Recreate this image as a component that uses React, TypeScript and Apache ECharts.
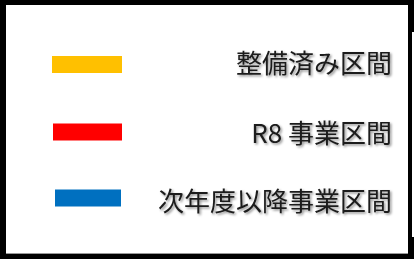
import React, { useEffect, useRef } from "react";
import * as echarts from "echarts";

const labels = ["整備済み区間", "R8 事業区間", "次年度以降事業区間"];
const colors = ["#FFC000", "#FF0000", "#0070C0"];

export default function App() {
  const ref = useRef<HTMLDivElement>(null);
  useEffect(() => {
    document.body.style.margin = "0";
    const chart = echarts.init(ref.current!, null, { renderer: "svg" });
    const rowY = [64.5, 132, 198];
    const barX = [52, 53, 55];
    const barW = [70, 69, 66];
    const textY = [61.5, 131, 199];
    const items: any[] = [];
    labels.forEach((lab, i) => {
      items.push({
        type: "rect",
        shape: { x: barX[i], y: rowY[i] - 8.5, width: barW[i], height: 17 },
        style: { fill: colors[i] },
      });
      items.push({
        type: "text",
        x: 392,
        y: textY[i],
        style: {
          text: lab,
          align: "right",
          verticalAlign: "middle",
          fontSize: 26,
          fontFamily: "Noto Sans CJK JP",
          fill: "#1a1a1a",
          textShadowColor: "rgba(0,0,0,0.45)",
          textShadowBlur: 2,
          textShadowOffsetX: 1.5,
          textShadowOffsetY: 1.5,
        },
      });
    });
    const border: any[] = [
      { type: "rect", shape: { x: 0, y: 0, width: 414, height: 5 }, style: { fill: "#000" } },
      { type: "rect", shape: { x: 0, y: 0, width: 6, height: 259 }, style: { fill: "#000" } },
      { type: "rect", shape: { x: 6, y: 253, width: 404, height: 1 }, style: { fill: "#999" } },
      { type: "rect", shape: { x: 0, y: 254, width: 414, height: 5 }, style: { fill: "#000" } },
      { type: "rect", shape: { x: 408, y: 0, width: 4, height: 259 }, style: { fill: "#000" } },
      { type: "rect", shape: { x: 408, y: 0, width: 6, height: 32 }, style: { fill: "#000" } },
      { type: "rect", shape: { x: 408, y: 237, width: 6, height: 22 }, style: { fill: "#000" } },
    ];
    chart.setOption({
      animation: false,
      backgroundColor: "#fff",
      graphic: [...border, ...items],
    });
    return () => chart.dispose();
  }, []);
  return <div ref={ref} style={{ width: 414, height: 259 }} />;
}
